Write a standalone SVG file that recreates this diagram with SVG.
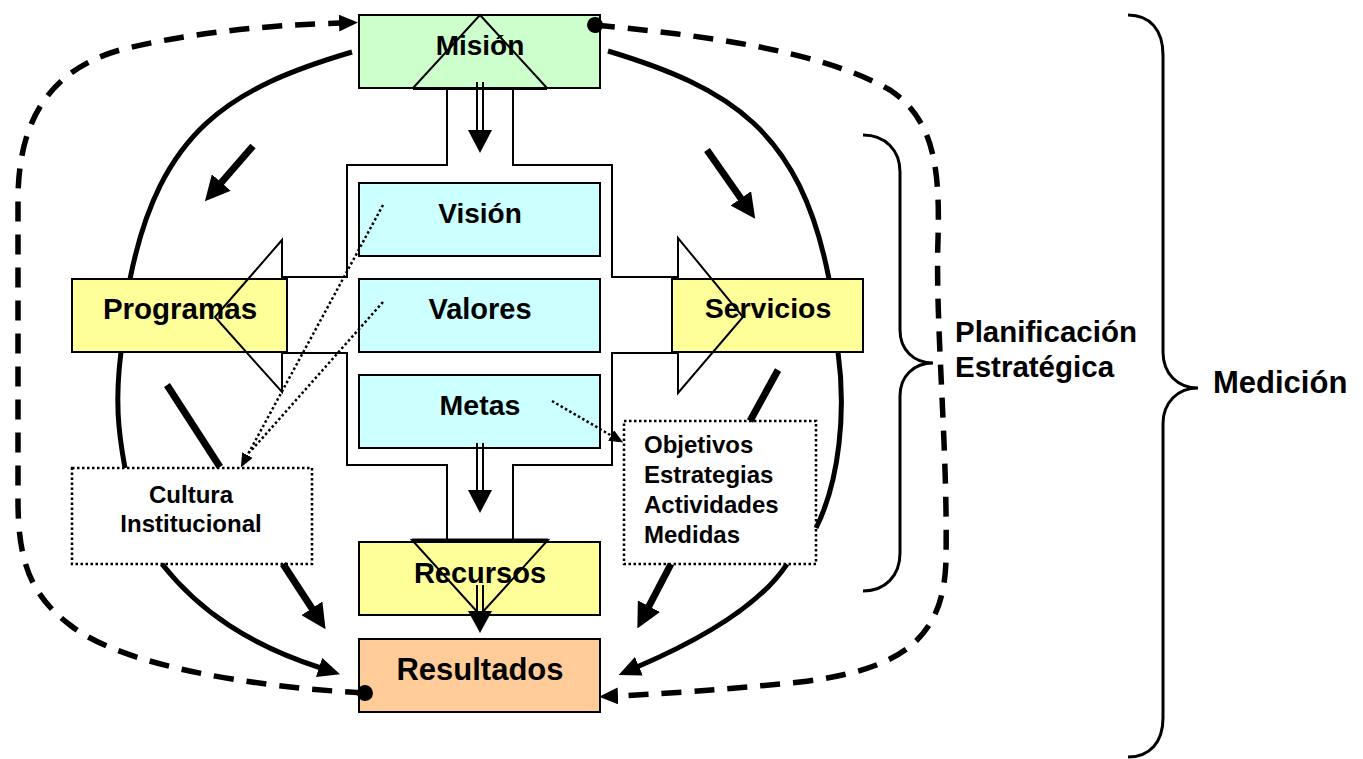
<svg xmlns="http://www.w3.org/2000/svg" width="1363" height="759" viewBox="0 0 1363 759">
<style>
.box{stroke:#000;stroke-width:2}
.t{font-family:"Liberation Sans",Arial,sans-serif;font-weight:bold;fill:#000}
.c{text-anchor:middle}
.solid{fill:none;stroke:#000;stroke-width:5}
.thick{fill:none;stroke:#000;stroke-width:7}
.dash{fill:none;stroke:#000;stroke-width:5.5;stroke-dasharray:20 13}
.dot{fill:none;stroke:#000;stroke-width:2.5;stroke-dasharray:2.5 2.5}
.dbl{fill:none;stroke:#000;stroke-width:2}
.brace{fill:none;stroke:#000;stroke-width:3}
</style>
<defs>
<marker id="aBig" markerUnits="userSpaceOnUse" markerWidth="25" markerHeight="25" viewBox="0 0 25 25" refX="2" refY="12.5" orient="auto"><path d="M0,0 L25,12.5 L0,25 z" fill="#000"/></marker>
<marker id="aCurve" markerUnits="userSpaceOnUse" markerWidth="22" markerHeight="20" viewBox="0 0 22 20" refX="2" refY="10" orient="auto"><path d="M0,0 L22,10 L0,20 z" fill="#000"/></marker>
<marker id="aDash" markerUnits="userSpaceOnUse" markerWidth="19" markerHeight="17" viewBox="0 0 19 17" refX="1" refY="8.5" orient="auto"><path d="M0,0 L19,8.5 L0,17 z" fill="#000"/></marker>
<marker id="aDot" markerUnits="userSpaceOnUse" markerWidth="14" markerHeight="12" viewBox="0 0 14 12" refX="1" refY="6" orient="auto"><path d="M0,0 L14,6 L0,12 z" fill="#000"/></marker>
<marker id="ball" markerUnits="userSpaceOnUse" markerWidth="18" markerHeight="18" viewBox="0 0 18 18" refX="9" refY="9" orient="auto"><circle cx="9" cy="9" r="8" fill="#000"/></marker>
</defs>
<rect width="1363" height="759" fill="#fff"/>

<g id="mision"><rect class="box" x="359" y="15" width="241" height="73" fill="#ccffcc"/><text class="t c" x="480" y="55" font-size="28">Misión</text></g>
<g id="vision"><rect class="box" x="359" y="183" width="241" height="73" fill="#ccffff"/><text class="t c" x="480" y="223" font-size="28">Visión</text></g>
<g id="valores"><rect class="box" x="359" y="279" width="241" height="73" fill="#ccffff"/><text class="t c" x="480" y="319" font-size="29">Valores</text></g>
<g id="metas"><rect class="box" x="359" y="375" width="241" height="73" fill="#ccffff"/><text class="t c" x="480" y="415" font-size="28.5">Metas</text></g>
<g id="recursos"><rect class="box" x="359" y="542" width="241" height="73" fill="#ffff99"/><text class="t c" x="480" y="583" font-size="29">Recursos</text></g>
<g id="resultados"><rect class="box" x="359" y="639" width="241" height="73" fill="#ffcc99"/><text class="t c" x="480" y="680" font-size="31">Resultados</text></g>
<g id="programas"><rect class="box" x="72" y="279" width="215" height="73" fill="#ffff99"/><text class="t c" x="180" y="319" font-size="29.5">Programas</text></g>
<g id="servicios"><rect class="box" x="672" y="279" width="191" height="73" fill="#ffff99"/><text class="t c" x="768" y="318" font-size="28.5">Servicios</text></g>
<g id="cultura"><rect class="dot" x="72" y="468" width="240" height="96" style="fill:#fff"/><text class="t c" x="191" y="503" font-size="24">Cultura</text><text class="t c" x="191" y="532" font-size="24">Institucional</text></g>
<g id="objetivos"><rect class="dot" x="624" y="421" width="192" height="143" style="fill:#fff"/><text class="t" x="644" y="453" font-size="24">Objetivos</text><text class="t" x="644" y="483" font-size="24">Estrategias</text><text class="t" x="644" y="513" font-size="24">Actividades</text><text class="t" x="644" y="543" font-size="24">Medidas</text></g>

<g id="quad-arrow"><path fill="none" stroke="#000" stroke-width="2" stroke-linejoin="miter" d="M480,15 L547,88 L513,88 L513,165 L612,165 L612,277 L678,277 L678,238 L743,317 L678,393 L678,353 L612,353 L612,465 L513,465 L513,540 L548,540 L480,615 L412,540 L447,540 L447,465 L347,465 L347,353 L282,353 L282,392 L215,317 L282,240 L282,277 L347,277 L347,165 L447,165 L447,88 L413,88 Z"/><path d="M413,88.5 L547,88.5" stroke="#000" stroke-width="3"/><path d="M412,540 L548,540" stroke="#000" stroke-width="3"/></g>

<g id="planificacion"><path class="brace" d="M863,135 C885,135 900,150 900,172 L900,330 C900,350 914,363 933,363 C914,363 900,376 900,396 L900,553 C900,576 885,591 863,591"/><text class="t" x="955" y="342" font-size="29.5">Planificación</text><text class="t" x="955" y="377" font-size="29.5">Estratégica</text></g>
<g id="medicion"><path class="brace" d="M1128,15 C1150,15 1163,30 1163,55 L1163,352 C1163,374 1178,388 1198,388 C1178,388 1163,402 1163,424 L1163,718 C1163,742 1150,757 1128,757"/><text class="t" x="1213" y="393" font-size="31">Medición</text></g>

<g id="connectors">
<path class="solid" d="M352,52 C230,88 160,130 130,279"/>
<path class="solid" d="M121,352 C115,400 118,430 125,468"/>
<path class="solid" marker-end="url(#aCurve)" d="M162,564 C200,612 250,645 321,668"/>
<path class="solid" d="M608,51 C730,88 800,130 829,279"/>
<path class="solid" d="M838,352 C846,410 840,480 816,528"/>
<path class="solid" marker-end="url(#aCurve)" d="M787,564 C760,605 700,640 637,667"/>
<path class="thick" marker-end="url(#aBig)" d="M253,146 L220,184"/>
<path class="thick" marker-end="url(#aBig)" d="M707,150 L742,200"/>
<path class="thick" d="M167,385 L220,467"/>
<path class="thick" marker-end="url(#aBig)" d="M283,564 L313,610"/>
<path class="thick" d="M778,370 L750,421"/>
<path class="thick" marker-end="url(#aBig)" d="M671,564 L648,608"/>
<path class="dash" marker-start="url(#ball)" marker-end="url(#aDash)" d="M365,693 C250,687 120,665 70,625 C30,595 18,560 18,500 L18,200 C18,120 50,70 120,50 C200,30 280,25 340,23"/>
<path class="dash" marker-start="url(#ball)" marker-end="url(#aDash)" d="M595,25 C700,35 820,50 890,90 C935,120 940,170 938,240 C935,320 948,450 946,560 C944,640 900,670 800,682 C720,690 660,694 617,696"/>
<path class="dot" marker-end="url(#aDot)" d="M383,205 L247,456"/>
<path class="dot" d="M383,302 L250,452"/>
<path class="dot" marker-end="url(#aDot)" d="M552,401 L612,436"/>
<path class="dbl" d="M477,82 L477,131 M483,82 L483,131"/><path d="M468,130 L492,130 L480,153 Z"/>
<path class="dbl" d="M477,443 L477,491 M483,443 L483,491"/><path d="M468,490 L492,490 L480,513 Z"/>
<path class="dbl" d="M477,585 L477,612 M483,585 L483,612"/><path d="M468,611 L492,611 L480,633 Z"/>
</g>
</svg>
